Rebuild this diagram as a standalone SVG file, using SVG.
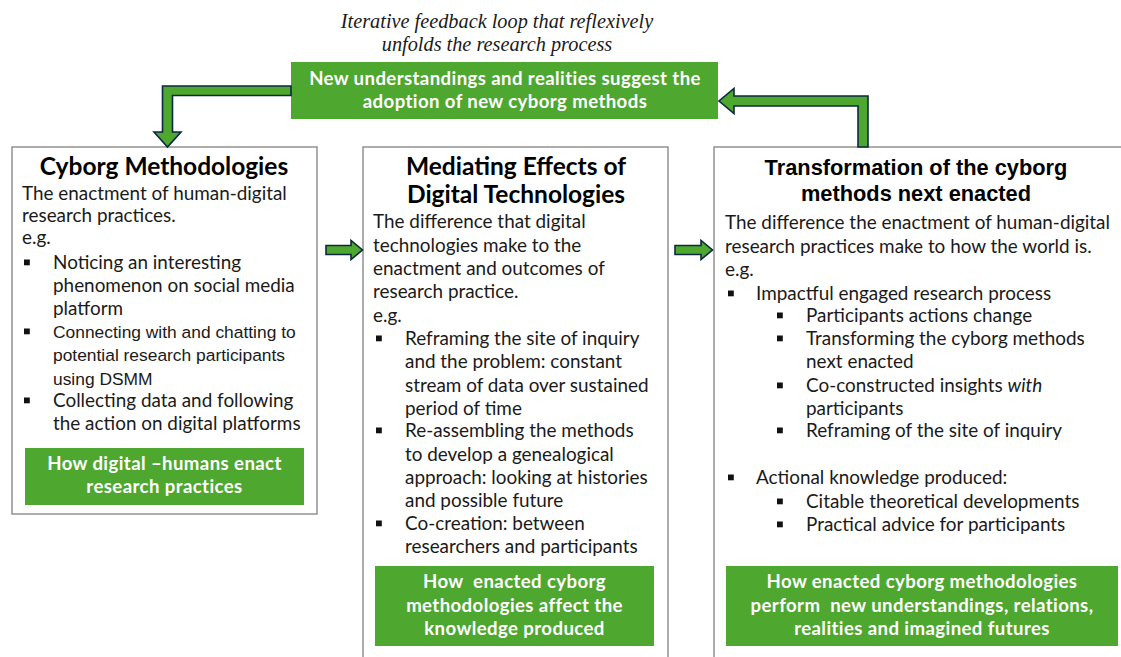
<svg xmlns="http://www.w3.org/2000/svg" width="1121" height="657" viewBox="0 0 1121 657">
  <style>
    .panel { fill: #ffffff; stroke: #8a8a8a; stroke-width: 1.4; }
    .band { fill: #4ea72e; }
    .band-text { font-family: Lato, "Liberation Sans", sans-serif; font-weight: 700; font-size: 18.6px; letter-spacing: 0.4px; fill: #ffffff; text-anchor: middle; }
    .title { font-family: Lato, "Liberation Sans", sans-serif; font-weight: 700; font-size: 24.5px; fill: #000000; text-anchor: middle; }
    .title-arial { font-family: "Liberation Sans", Arial, sans-serif; font-weight: 700; font-size: 21.8px; fill: #000000; text-anchor: middle; }
    .body { font-family: Lato, "Liberation Sans", sans-serif; font-size: 18.9px; fill: #1a1a1a; }
    .body-arial { font-family: "Liberation Sans", Arial, sans-serif; font-size: 17.4px; fill: #1a1a1a; }
    .note { font-family: "Liberation Serif", "Times New Roman", serif; font-style: italic; font-size: 20.3px; fill: #1a1a1a; text-anchor: middle; }
    .arrow { fill: #4ea72e; stroke: #0e2841; stroke-width: 1.6; stroke-linejoin: miter; }
    .dot { fill: #111111; }
  </style>
  <defs>
    <rect id="sq" x="0" y="-9.5" width="5.8" height="5.8" class="dot"/>
  </defs>

  <rect width="1121" height="657" fill="#ffffff"/>

  <!-- caption above the loop -->
  <g id="loop-caption">
    <text class="note" x="497" y="28">Iterative feedback loop that reflexively</text>
    <text class="note" x="497" y="51">unfolds the research process</text>
  </g>

  <!-- feedback box -->
  <g id="feedback">
    <rect class="band" x="291" y="62" width="427" height="57"/>
    <text class="band-text" x="505" y="85">New understandings and realities suggest the</text>
    <text class="band-text" x="505" y="108">adoption of new cyborg methods</text>
  </g>

  <!-- panel 1 -->
  <g id="cyborg-methodologies">
    <rect class="panel" x="12" y="147" width="305" height="367"/>
    <text class="title" x="164" y="175">Cyborg Methodologies</text>
    <text class="body" x="22" y="200">The enactment of human-digital</text>
    <text class="body" x="22" y="222">research practices.</text>
    <text class="body" x="22" y="244">e.g.</text>
    <use href="#sq" x="24" y="269"/>
    <text class="body" x="53" y="269">Noticing an interesting</text>
    <text class="body" x="53" y="292">phenomenon on social media</text>
    <text class="body" x="53" y="315">platform</text>
    <use href="#sq" x="24" y="338"/>
    <text class="body-arial" x="53" y="338">Connecting with and chatting to</text>
    <text class="body-arial" x="53" y="361">potential research participants</text>
    <text class="body-arial" x="53" y="385">using DSMM</text>
    <use href="#sq" x="24" y="407"/>
    <text class="body" x="53" y="407">Collecting data and following</text>
    <text class="body" x="53" y="430">the action on digital platforms</text>
    <rect class="band" x="25" y="448" width="279" height="57"/>
    <text class="band-text" x="164.5" y="470">How digital –humans enact</text>
    <text class="band-text" x="164.5" y="493">research practices</text>
  </g>

  <!-- panel 2 -->
  <g id="mediating-effects">
    <rect class="panel" x="363" y="147" width="305" height="520"/>
    <text class="title" x="516" y="175">Mediating Effects of</text>
    <text class="title" x="516" y="203">Digital Technologies</text>
    <text class="body" x="373" y="228">The difference that digital</text>
    <text class="body" x="373" y="252">technologies make to the</text>
    <text class="body" x="373" y="275">enactment and outcomes of</text>
    <text class="body" x="373" y="298">research practice.</text>
    <text class="body" x="373" y="322">e.g.</text>
    <use href="#sq" x="376" y="345"/>
    <text class="body" x="405" y="345">Reframing the site of inquiry</text>
    <text class="body" x="405" y="368">and the problem: constant</text>
    <text class="body" x="405" y="392">stream of data over sustained</text>
    <text class="body" x="405" y="415">period of time</text>
    <use href="#sq" x="376" y="437"/>
    <text class="body" x="405" y="437">Re-assembling the methods</text>
    <text class="body" x="405" y="461">to develop a genealogical</text>
    <text class="body" x="405" y="484">approach: looking at histories</text>
    <text class="body" x="405" y="507">and possible future</text>
    <use href="#sq" x="376" y="530"/>
    <text class="body" x="405" y="530">Co-creation: between</text>
    <text class="body" x="405" y="553">researchers and participants</text>
    <rect class="band" x="375" y="566" width="279" height="80"/>
    <text class="band-text" x="514.5" y="588">How&#160; enacted cyborg</text>
    <text class="band-text" x="514.5" y="612">methodologies affect the</text>
    <text class="band-text" x="514.5" y="635">knowledge produced</text>
  </g>

  <!-- panel 3 -->
  <g id="transformation">
    <rect class="panel" x="714" y="147" width="420" height="520"/>
    <text class="title-arial" x="916" y="175">Transformation of the cyborg</text>
    <text class="title-arial" x="916" y="201">methods next enacted</text>
    <text class="body" x="725" y="229">The difference the enactment of human-digital</text>
    <text class="body" x="725" y="253">research practices make to how the world is.</text>
    <text class="body" x="725" y="276">e.g.</text>
    <use href="#sq" x="728" y="300"/>
    <text class="body" x="756" y="300">Impactful engaged research process</text>
    <use href="#sq" x="777" y="322"/>
    <text class="body" x="806" y="322">Participants actions change</text>
    <use href="#sq" x="777" y="345"/>
    <text class="body" x="806" y="345">Transforming the cyborg methods</text>
    <text class="body" x="806" y="368">next enacted</text>
    <use href="#sq" x="777" y="392"/>
    <text class="body" x="806" y="392">Co-constructed insights <tspan font-style="italic">with</tspan></text>
    <text class="body" x="806" y="415">participants</text>
    <use href="#sq" x="777" y="437"/>
    <text class="body" x="806" y="437">Reframing of the site of inquiry</text>
    <use href="#sq" x="728" y="484"/>
    <text class="body" x="756" y="484">Actional knowledge produced:</text>
    <use href="#sq" x="777" y="508"/>
    <text class="body" x="806" y="508">Citable theoretical developments</text>
    <use href="#sq" x="777" y="531"/>
    <text class="body" x="806" y="531">Practical advice for participants</text>
    <rect class="band" x="726" y="566" width="392" height="80"/>
    <text class="band-text" x="922" y="588">How enacted cyborg methodologies</text>
    <text class="band-text" x="922" y="612">perform&#160; new understandings, relations,</text>
    <text class="band-text" x="922" y="635">realities and imagined futures</text>
  </g>

  <!-- block arrows -->
  <g id="connectors">
    <path class="arrow" d="M326 245.5 H351 V240.5 L362.5 250 L351 259.5 V254.5 H326 Z"/>
    <path class="arrow" d="M675 245.5 H701 V240.5 L712.5 250 L701 259.5 V254.5 H675 Z"/>
    <path class="arrow" d="M291 86 V95.5 H172.5 V132 H181 L167.5 147 L154 132 H162.5 V86 Z"/>
    <path class="arrow" d="M868 147 V96 H734 V88.5 L719 101 L734 113.5 V106 H858 V147 Z"/>
  </g>
</svg>
